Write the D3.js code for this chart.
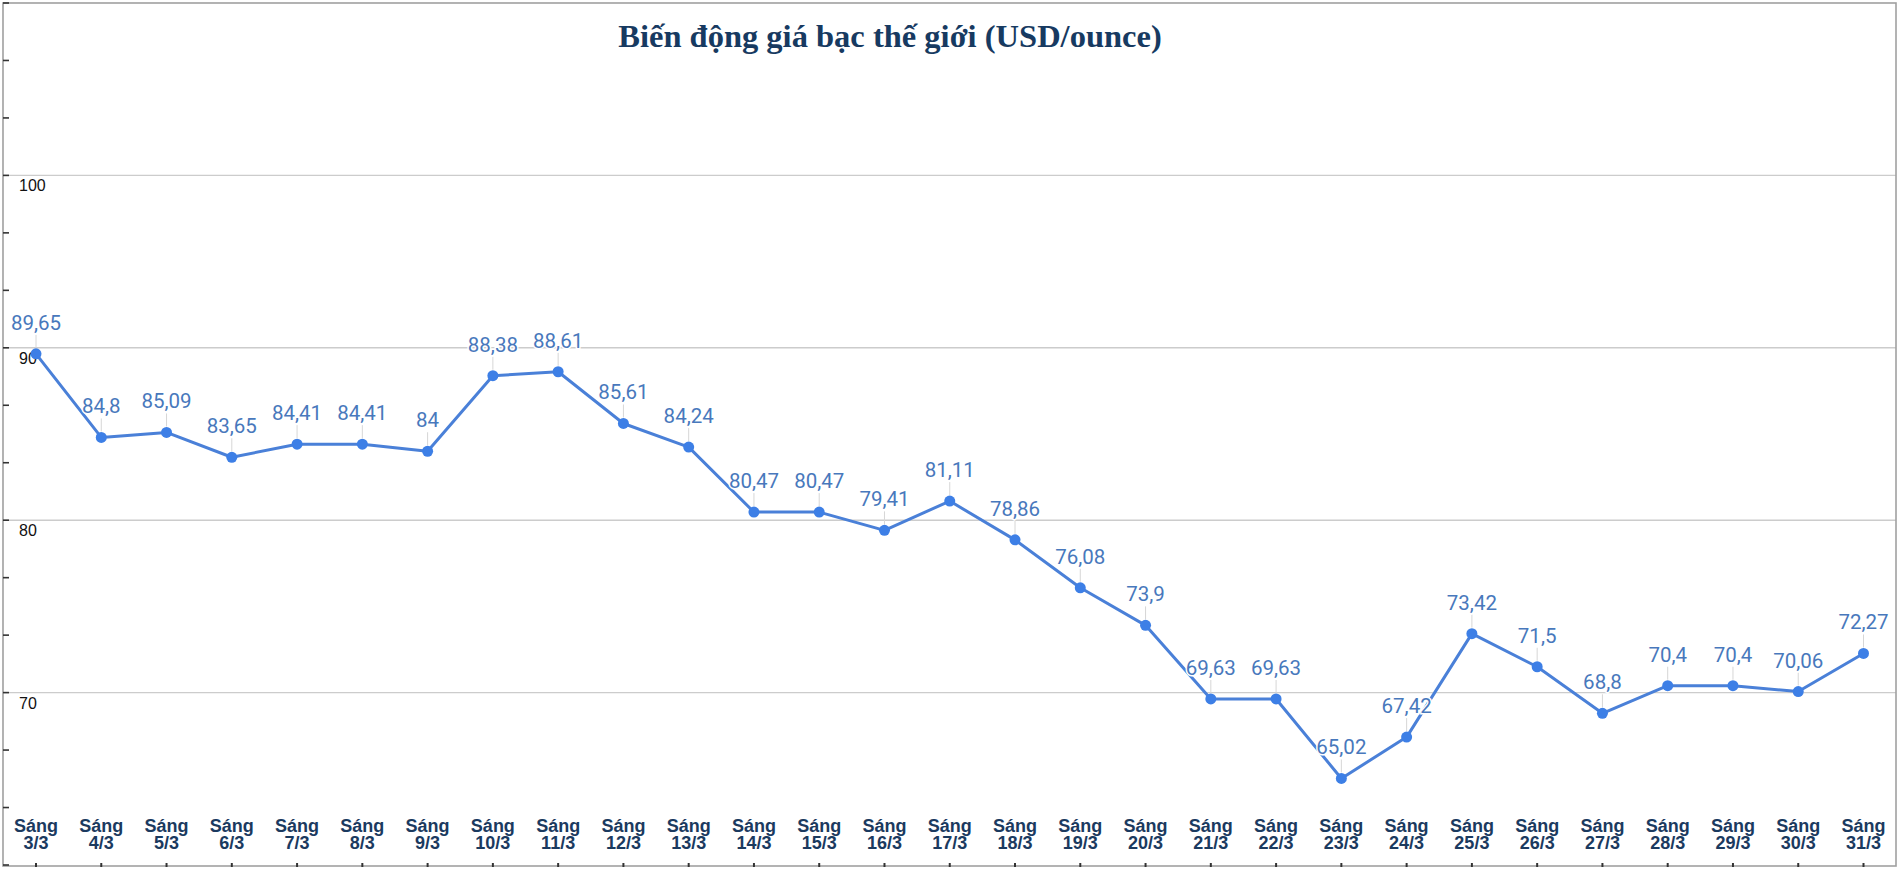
<!DOCTYPE html>
<html>
<head>
<meta charset="utf-8">
<script src="https://cdn.jsdelivr.net/npm/d3@7"></script>
<style>
  html, body { margin: 0; padding: 0; background: #fff; }
  svg { display: block; }
</style>
</head>
<body>
<svg id="chart" width="1900" height="871"></svg>
<script>
const title = "Biến động giá bạc thế giới (USD/ounce)";
const categories = ["3/3","4/3","5/3","6/3","7/3","8/3","9/3","10/3","11/3","12/3","13/3","14/3","15/3","16/3","17/3","18/3","19/3","20/3","21/3","22/3","23/3","24/3","25/3","26/3","27/3","28/3","29/3","30/3","31/3"];
const prices = [89.65,84.8,85.09,83.65,84.41,84.41,84,88.38,88.61,85.61,84.24,80.47,80.47,79.41,81.11,78.86,76.08,73.9,69.63,69.63,65.02,67.42,73.42,71.5,68.8,70.4,70.4,70.06,72.27];
const yTicks = [70, 80, 90, 100];
const yDomain = [60, 110];
const prefix = "Sáng";

(function () {
const svg = d3.select("#chart");
const pL = 3, pR = 1896, pT = 3, pB = 865;

const x = d3.scalePoint().domain(categories).range([36, 1863.5]);
const y = d3.scaleLinear().domain(yDomain).range([pB, pT]);

const fmt = v => String(v).replace(".", ",");

// gridlines
svg.append("g").selectAll("line").data(yTicks).join("line")
  .attr("x1", pL).attr("x2", pR)
  .attr("y1", d => y(d)).attr("y2", d => y(d))
  .attr("stroke", "#cccccc").attr("stroke-width", 1.4);

// frame
svg.append("rect").attr("x", pL).attr("y", pT)
  .attr("width", pR - pL).attr("height", pB - pT + 1)
  .attr("fill", "none").attr("stroke", "#a0a0a0").attr("stroke-width", 1.6);

// left axis minor ticks
const minor = d3.range(yDomain[0], yDomain[1] + 0.001, 10 / 3);
svg.append("g").selectAll("line").data(minor).join("line")
  .attr("x1", pL).attr("x2", pL + 6)
  .attr("y1", d => y(d)).attr("y2", d => y(d))
  .attr("stroke", "#333").attr("stroke-width", 1.6);

// y tick labels
svg.append("g").selectAll("text").data(yTicks).join("text")
  .attr("x", 19).attr("y", d => y(d) + 16)
  .attr("font-family", "Arial, 'Liberation Sans', sans-serif")
  .attr("font-size", 16).attr("fill", "#111")
  .text(d => d);

// bottom ticks
svg.append("g").selectAll("line").data(categories).join("line")
  .attr("x1", d => x(d)).attr("x2", d => x(d))
  .attr("y1", pB - 2).attr("y2", pB + 2)
  .attr("stroke", "#333").attr("stroke-width", 2);

// x labels
const xl = svg.append("g").selectAll("text").data(categories).join("text")
  .attr("x", d => x(d)).attr("text-anchor", "middle")
  .attr("font-family", "Arial, 'Liberation Sans', sans-serif")
  .attr("font-weight", "bold").attr("font-size", 18).attr("fill", "#1b3a5f");
xl.append("tspan").attr("x", d => x(d)).attr("y", 832).text(prefix);
xl.append("tspan").attr("x", d => x(d)).attr("y", 848.5).text(d => d);

// line
const data = categories.map((c, i) => ({ c, v: prices[i] }));
svg.append("path").datum(data)
  .attr("fill", "none").attr("stroke", "#4a80d8").attr("stroke-width", 3)
  .attr("stroke-linejoin", "round")
  .attr("d", d3.line().x(d => x(d.c)).y(d => y(d.v)));

// leader lines
svg.append("g").selectAll("line").data(data).join("line")
  .attr("x1", d => x(d.c)).attr("x2", d => x(d.c))
  .attr("y1", d => y(d.v) - 19).attr("y2", d => y(d.v) - 6)
  .attr("stroke", "#d6d6d6").attr("stroke-width", 1);

// points
svg.append("g").selectAll("circle").data(data).join("circle")
  .attr("cx", d => x(d.c)).attr("cy", d => y(d.v)).attr("r", 5.5)
  .attr("fill", "#3d7fe6");

// data labels
svg.append("g").selectAll("text").data(data).join("text")
  .attr("x", d => x(d.c)).attr("y", d => y(d.v) - 24)
  .attr("text-anchor", "middle")
  .attr("font-family", "Roboto, Arial, sans-serif")
  .attr("font-size", 20.5).attr("fill", "#4878bc")
  .attr("stroke", "#fff").attr("stroke-width", 3).attr("paint-order", "stroke")
  .text(d => fmt(d.v));

// title
svg.append("text").attr("x", 890).attr("y", 47).attr("text-anchor", "middle")
  .attr("font-family", "'Liberation Serif', 'Times New Roman', serif")
  .attr("font-weight", "bold").attr("font-size", 32.5).attr("fill", "#173a61")
  .text(title);
})();
</script>
</body>
</html>
